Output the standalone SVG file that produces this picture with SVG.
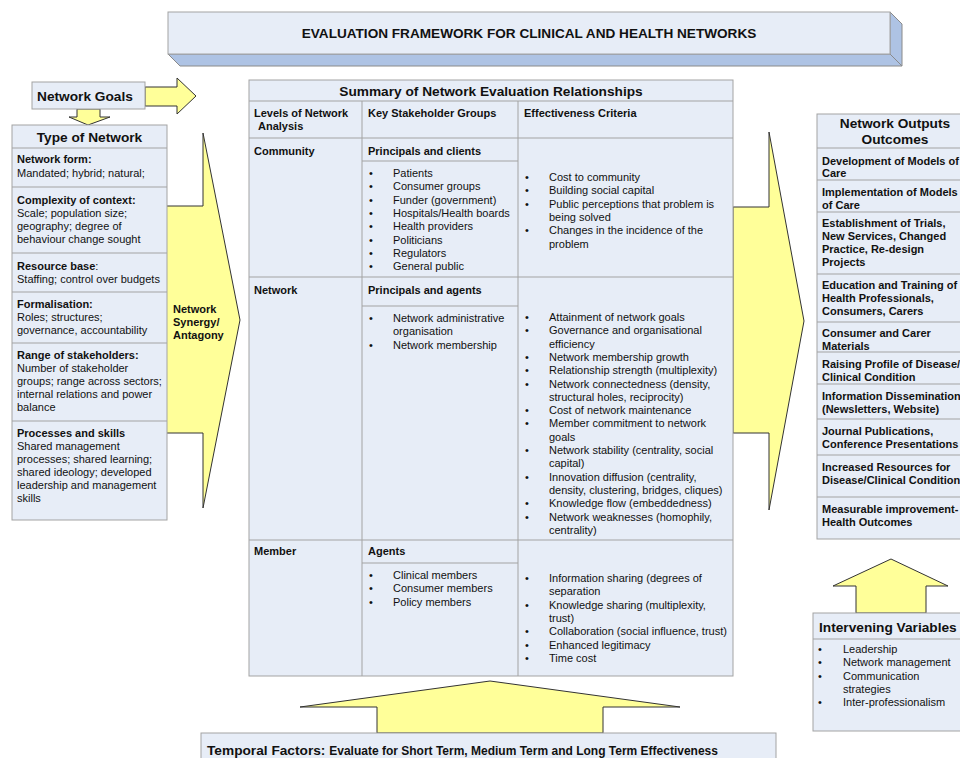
<svg xmlns="http://www.w3.org/2000/svg" width="960" height="758" viewBox="0 0 960 758">
<style>
.box{fill:#e7edf7;stroke:#a3a3a3;stroke-width:1}
.face{fill:#aec3e4;stroke:#8a8a8a;stroke-width:1}
.arr{fill:#ffff99;stroke:#333;stroke-width:1;stroke-linejoin:miter}
.ln{stroke:#a3a3a3;stroke-width:1;fill:none}
text{font-family:"Liberation Sans",Arial,sans-serif;fill:#111}
.b11{font-size:11px;font-weight:bold}
.r11{font-size:11px}
.h14{font-size:13.7px;font-weight:bold}
.b12{font-size:12px;font-weight:bold}
.t13{font-size:13.6px;font-weight:bold}
</style>
<rect width="960" height="758" fill="#fff"/>

<g id="connectors">
  <!-- Network Goals -> right -->
  <polygon class="arr" points="145,87 177,87 177,78 196,96 177,114 177,106 145,106"/>
  <!-- Network Goals -> Type of Network -->
  <polygon class="arr" points="77,109 100,109 100,117 110,117 88,125 69,117 77,117"/>
  <!-- Left big arrow: Network Synergy/Antagony -->
  <polygon class="arr" points="160,206 203,206 203,133 240,320 203,508 203,433 160,433"/>
  <!-- Right big arrow to outputs -->
  <polygon class="arr" points="733,207 769,207 769,132 804,321 769,510 769,433 733,433"/>
  <!-- Temporal factors arrow -->
  <polygon class="arr" points="377,733 377,707 300,707 490,681 680,707 603,707 603,733"/>
  <!-- Intervening variables arrow -->
  <polygon class="arr" points="856,613 856,586 833,586 891,559 948,586 926,586 926,613"/>
</g>

<g id="title">
  <polygon class="face" points="168,54 890,54 902,66 180,66"/>
  <polygon class="face" points="890,12 902,24 902,66 890,54"/>
  <rect class="box" x="168" y="12" width="722" height="42"/>
  <text class="t13" x="529" y="38" text-anchor="middle">EVALUATION FRAMEWORK FOR CLINICAL AND HEALTH NETWORKS</text>
</g>

<g id="network-goals">
  <rect class="box" x="32" y="82" width="113" height="27"/>
  <text class="h14" x="37" y="101">Network Goals</text>
</g>

<g id="synergy-label">
  <text class="b11" x="173" y="313">Network</text>
  <text class="b11" x="173" y="326">Synergy/</text>
  <text class="b11" x="173" y="339">Antagony</text>
</g>

<g id="type-of-network">
  <rect class="box" x="12" y="125" width="155" height="395"/>
  <line class="ln" x1="12" y1="148" x2="167" y2="148"/>
  <line class="ln" x1="12" y1="187" x2="167" y2="187"/>
  <line class="ln" x1="12" y1="253" x2="167" y2="253"/>
  <line class="ln" x1="12" y1="292" x2="167" y2="292"/>
  <line class="ln" x1="12" y1="343" x2="167" y2="343"/>
  <line class="ln" x1="12" y1="421" x2="167" y2="421"/>
  <text class="h14" x="89.5" y="142" text-anchor="middle">Type of Network</text>
  <text class="b11" x="17" y="163">Network form:</text>
  <text class="r11" x="17" y="177">Mandated; hybrid; natural;</text>
  <text class="b11" x="17" y="204">Complexity of context:</text>
  <text class="r11" x="17" y="217">Scale; population size;</text>
  <text class="r11" x="17" y="230">geography; degree of</text>
  <text class="r11" x="17" y="243">behaviour change sought</text>
  <text class="b11" x="17" y="270">Resource base<tspan font-weight="normal">:</tspan></text>
  <text class="r11" x="17" y="283">Staffing; control over budgets</text>
  <text class="b11" x="17" y="308">Formalisation:</text>
  <text class="r11" x="17" y="321">Roles; structures;</text>
  <text class="r11" x="17" y="334">governance, accountability</text>
  <text class="b11" x="17" y="359">Range of stakeholders:</text>
  <text class="r11" x="17" y="372">Number of stakeholder</text>
  <text class="r11" x="17" y="385">groups; range across sectors;</text>
  <text class="r11" x="17" y="398">internal relations and power</text>
  <text class="r11" x="17" y="411">balance</text>
  <text class="b11" x="17" y="437">Processes and skills</text>
  <text class="r11" x="17" y="450">Shared management</text>
  <text class="r11" x="17" y="463">processes; shared learning;</text>
  <text class="r11" x="17" y="476">shared ideology; developed</text>
  <text class="r11" x="17" y="489">leadership and management</text>
  <text class="r11" x="17" y="502">skills</text>
</g>

<g id="summary-table">
  <rect class="box" x="249" y="80" width="484" height="596"/>
  <line class="ln" x1="249" y1="101" x2="733" y2="101"/>
  <line class="ln" x1="249" y1="138" x2="733" y2="138"/>
  <line class="ln" x1="249" y1="277" x2="733" y2="277"/>
  <line class="ln" x1="249" y1="540" x2="733" y2="540"/>
  <line class="ln" x1="362" y1="101" x2="362" y2="676"/>
  <line class="ln" x1="518" y1="101" x2="518" y2="676"/>
  <line class="ln" x1="362" y1="161" x2="518" y2="161"/>
  <line class="ln" x1="362" y1="306" x2="518" y2="306"/>
  <line class="ln" x1="362" y1="563" x2="518" y2="563"/>
  <text class="h14" x="491" y="96" text-anchor="middle">Summary of Network Evaluation Relationships</text>
  <text class="b11" x="254" y="117">Levels of Network</text>
  <text class="b11" x="258" y="130">Analysis</text>
  <text class="b11" x="368" y="117">Key Stakeholder Groups</text>
  <text class="b11" x="524" y="117">Effectiveness Criteria</text>

  <text class="b11" x="254" y="155">Community</text>
  <text class="b11" x="368" y="155">Principals and clients</text>
  <g class="r11">
    <text class="r11" x="369" y="177">•</text><text class="r11" x="393" y="177">Patients</text>
    <text class="r11" x="369" y="190.3">•</text><text class="r11" x="393" y="190.3">Consumer groups</text>
    <text class="r11" x="369" y="203.6">•</text><text class="r11" x="393" y="203.6">Funder (government)</text>
    <text class="r11" x="369" y="216.9">•</text><text class="r11" x="393" y="216.9">Hospitals/Health boards</text>
    <text class="r11" x="369" y="230.2">•</text><text class="r11" x="393" y="230.2">Health providers</text>
    <text class="r11" x="369" y="243.5">•</text><text class="r11" x="393" y="243.5">Politicians</text>
    <text class="r11" x="369" y="256.8">•</text><text class="r11" x="393" y="256.8">Regulators</text>
    <text class="r11" x="369" y="270.1">•</text><text class="r11" x="393" y="270.1">General public</text>
  </g>
  <text class="r11" x="525" y="181">•</text><text class="r11" x="549" y="181">Cost to community</text>
  <text class="r11" x="525" y="194.3">•</text><text class="r11" x="549" y="194.3">Building social capital</text>
  <text class="r11" x="525" y="207.6">•</text><text class="r11" x="549" y="207.6">Public perceptions that problem is</text>
  <text class="r11" x="549" y="220.9">being solved</text>
  <text class="r11" x="525" y="234.2">•</text><text class="r11" x="549" y="234.2">Changes in the incidence of the</text>
  <text class="r11" x="549" y="247.5">problem</text>

  <text class="b11" x="254" y="294">Network</text>
  <text class="b11" x="368" y="294">Principals and agents</text>
  <text class="r11" x="369" y="322">•</text><text class="r11" x="393" y="322">Network administrative</text>
  <text class="r11" x="393" y="335.3">organisation</text>
  <text class="r11" x="369" y="348.6">•</text><text class="r11" x="393" y="348.6">Network membership</text>

  <text class="r11" x="525" y="321">•</text><text class="r11" x="549" y="321">Attainment of network goals</text>
  <text class="r11" x="525" y="334.3">•</text><text class="r11" x="549" y="334.3">Governance and organisational</text>
  <text class="r11" x="549" y="347.6">efficiency</text>
  <text class="r11" x="525" y="360.9">•</text><text class="r11" x="549" y="360.9">Network membership growth</text>
  <text class="r11" x="525" y="374.2">•</text><text class="r11" x="549" y="374.2">Relationship strength (multiplexity)</text>
  <text class="r11" x="525" y="387.5">•</text><text class="r11" x="549" y="387.5">Network connectedness (density,</text>
  <text class="r11" x="549" y="400.8">structural holes, reciprocity)</text>
  <text class="r11" x="525" y="414.1">•</text><text class="r11" x="549" y="414.1">Cost of network maintenance</text>
  <text class="r11" x="525" y="427.4">•</text><text class="r11" x="549" y="427.4">Member commitment to network</text>
  <text class="r11" x="549" y="440.7">goals</text>
  <text class="r11" x="525" y="454">•</text><text class="r11" x="549" y="454">Network stability (centrality, social</text>
  <text class="r11" x="549" y="467.3">capital)</text>
  <text class="r11" x="525" y="480.6">•</text><text class="r11" x="549" y="480.6">Innovation diffusion (centrality,</text>
  <text class="r11" x="549" y="493.9">density, clustering, bridges, cliques)</text>
  <text class="r11" x="525" y="507.2">•</text><text class="r11" x="549" y="507.2">Knowledge flow (embeddedness)</text>
  <text class="r11" x="525" y="520.5">•</text><text class="r11" x="549" y="520.5">Network weaknesses (homophily,</text>
  <text class="r11" x="549" y="533.8">centrality)</text>

  <text class="b11" x="254" y="555">Member</text>
  <text class="b11" x="368" y="555">Agents</text>
  <text class="r11" x="369" y="579">•</text><text class="r11" x="393" y="579">Clinical members</text>
  <text class="r11" x="369" y="592.3">•</text><text class="r11" x="393" y="592.3">Consumer members</text>
  <text class="r11" x="369" y="605.6">•</text><text class="r11" x="393" y="605.6">Policy members</text>

  <text class="r11" x="525" y="582">•</text><text class="r11" x="549" y="582">Information sharing (degrees of</text>
  <text class="r11" x="549" y="595.3">separation</text>
  <text class="r11" x="525" y="608.6">•</text><text class="r11" x="549" y="608.6">Knowledge sharing (multiplexity,</text>
  <text class="r11" x="549" y="621.9">trust)</text>
  <text class="r11" x="525" y="635.2">•</text><text class="r11" x="549" y="635.2">Collaboration (social influence, trust)</text>
  <text class="r11" x="525" y="648.5">•</text><text class="r11" x="549" y="648.5">Enhanced legitimacy</text>
  <text class="r11" x="525" y="661.8">•</text><text class="r11" x="549" y="661.8">Time cost</text>
</g>

<g id="network-outputs">
  <rect class="box" x="817" y="114" width="156" height="425"/>
  <line class="ln" x1="817" y1="148" x2="973" y2="148"/>
  <line class="ln" x1="817" y1="180" x2="973" y2="180"/>
  <line class="ln" x1="817" y1="212" x2="973" y2="212"/>
  <line class="ln" x1="817" y1="274" x2="973" y2="274"/>
  <line class="ln" x1="817" y1="322" x2="973" y2="322"/>
  <line class="ln" x1="817" y1="352" x2="973" y2="352"/>
  <line class="ln" x1="817" y1="384" x2="973" y2="384"/>
  <line class="ln" x1="817" y1="419" x2="973" y2="419"/>
  <line class="ln" x1="817" y1="455" x2="973" y2="455"/>
  <line class="ln" x1="817" y1="497" x2="973" y2="497"/>
  <text class="h14" x="895" y="128" text-anchor="middle">Network Outputs</text>
  <text class="h14" x="895" y="144" text-anchor="middle">Outcomes</text>
  <text class="b11" x="822" y="165">Development of Models of</text>
  <text class="b11" x="822" y="177">Care</text>
  <text class="b11" x="822" y="196">Implementation of Models</text>
  <text class="b11" x="822" y="209">of Care</text>
  <text class="b11" x="822" y="227">Establishment of Trials,</text>
  <text class="b11" x="822" y="240">New Services, Changed</text>
  <text class="b11" x="822" y="253">Practice, Re-design</text>
  <text class="b11" x="822" y="266">Projects</text>
  <text class="b11" x="822" y="289">Education and Training of</text>
  <text class="b11" x="822" y="302">Health Professionals,</text>
  <text class="b11" x="822" y="315">Consumers, Carers</text>
  <text class="b11" x="822" y="337">Consumer and Carer</text>
  <text class="b11" x="822" y="350">Materials</text>
  <text class="b11" x="822" y="368">Raising Profile of Disease/</text>
  <text class="b11" x="822" y="381">Clinical Condition</text>
  <text class="b11" x="822" y="400">Information Dissemination</text>
  <text class="b11" x="822" y="413">(Newsletters, Website)</text>
  <text class="b11" x="822" y="435">Journal Publications,</text>
  <text class="b11" x="822" y="448">Conference Presentations</text>
  <text class="b11" x="822" y="471">Increased Resources for</text>
  <text class="b11" x="822" y="484">Disease/Clinical Condition</text>
  <text class="b11" x="822" y="513">Measurable improvement-</text>
  <text class="b11" x="822" y="526">Health Outcomes</text>
</g>

<g id="intervening-variables">
  <rect class="box" x="813" y="613" width="162" height="118"/>
  <line class="ln" x1="813" y1="639" x2="975" y2="639"/>
  <text class="h14" x="819" y="632">Intervening Variables</text>
  <text class="r11" x="818" y="653">•</text><text class="r11" x="843" y="653">Leadership</text>
  <text class="r11" x="818" y="666.3">•</text><text class="r11" x="843" y="666.3">Network management</text>
  <text class="r11" x="818" y="679.6">•</text><text class="r11" x="843" y="679.6">Communication</text>
  <text class="r11" x="843" y="692.9">strategies</text>
  <text class="r11" x="818" y="706.2">•</text><text class="r11" x="843" y="706.2">Inter-professionalism</text>
</g>

<g id="temporal-factors">
  <rect class="box" x="201" y="733" width="575" height="40"/>
  <text x="207" y="755"><tspan class="h14">Temporal Factors: </tspan><tspan class="b12">Evaluate for Short Term, Medium Term and Long Term Effectiveness</tspan></text>
</g>
</svg>
